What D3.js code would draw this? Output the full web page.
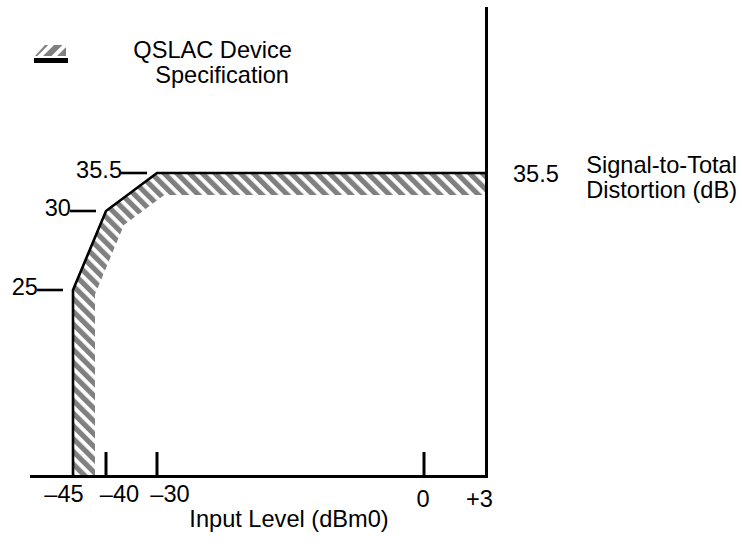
<!DOCTYPE html>
<html>
<head>
<meta charset="utf-8">
<script src="https://cdn.jsdelivr.net/npm/d3@7"></script>
<style>
	body { margin: 0; background: #fff; }
	svg text { font-family: "Liberation Sans", Arial, Helvetica, sans-serif; font-size: 23.6px; fill: #000; }
</style>
</head>
<body>
<svg id="chart" width="742" height="546"></svg>
<script>

// input level (dBm0) ticks on the x axis
var inputLevels = [-45, -40, -30, 0, 3];
var inputLabels = ['\u201345', '\u201340', '\u201330', '0', '+3'];

// signal-to-total distortion (dB) ticks
var distortionTicks = [25, 30, 35.5];
var distortionLabels = ['25', '30', '35.5'];

// QSLAC device specification mask
var maskInput = [-45, -40, -30, 3];
var maskDistortion = [25, 30, 35.5, 35.5];

var svg = d3.select('#chart');

/**
 * The drawing is not to scale, so both scales are piecewise
 */
var x = d3.scaleLinear().domain(inputLevels).range([73, 106, 157, 424, 486.5]);
var y = d3.scaleLinear().domain(distortionTicks).range([290, 211, 173]);
var axisY = 476.5;
var bandWidth = 22;

/**
 * Hatch patterns
 */
var defs = svg.append('defs');

defs.append('pattern')
		.attr('id', 'hatch')
		.attr('patternUnits', 'userSpaceOnUse')
		.attr('width', 9)
		.attr('height', 9)
		.attr('patternTransform', 'rotate(-45)')
	.append('rect')
		.attr('width', 5.2)
		.attr('height', 9)
		.attr('fill', '#808080');

defs.append('pattern')
		.attr('id', 'hatch-legend')
		.attr('patternUnits', 'userSpaceOnUse')
		.attr('width', 10)
		.attr('height', 10)
		.attr('patternTransform', 'rotate(45)')
	.append('rect')
		.attr('width', 6)
		.attr('height', 10)
		.attr('fill', '#808080');

/**
 * Intersection of two infinite lines
 */
var intersect = function(a, b) {
	var x1 = a[0][0], y1 = a[0][1], x2 = a[1][0], y2 = a[1][1];
	var x3 = b[0][0], y3 = b[0][1], x4 = b[1][0], y4 = b[1][1];
	var den = (x1 - x2) * (y3 - y4) - (y1 - y2) * (x3 - x4);
	var t = ((x1 - x3) * (y3 - y4) - (y1 - y3) * (x3 - x4)) / den;
	return [x1 + t * (x2 - x1), y1 + t * (y2 - y1)];
}

/**
 * Offsets a polyline to its right side by d pixels
 */
var offsetPolyline = function(pts, d) {
	var lines = [];
	for (var i = 0; i < pts.length - 1; i++) {
		var dx = pts[i + 1][0] - pts[i][0], dy = pts[i + 1][1] - pts[i][1];
		var len = Math.sqrt(dx * dx + dy * dy);
		var nx = -dy / len * d, ny = dx / len * d;
		lines.push([[pts[i][0] + nx, pts[i][1] + ny], [pts[i + 1][0] + nx, pts[i + 1][1] + ny]]);
	}
	var out = [lines[0][0]];
	for (var j = 0; j < lines.length - 1; j++) out.push(intersect(lines[j], lines[j + 1]));
	out.push(lines[lines.length - 1][1]);
	return out;
}

// mask points, starting at the x axis
var maskPts = [[x(maskInput[0]), axisY]];
for (var i = 0; i < maskInput.length; i++) maskPts.push([x(maskInput[i]), y(maskDistortion[i])]);

var innerPts = offsetPolyline(maskPts, bandWidth);

/**
 * Hatched band inside the mask
 */
svg.append('path')
		.attr('d', d3.line()(maskPts.concat(innerPts.slice().reverse())) + 'Z')
		.attr('fill', 'url(#hatch)');

/**
 * Mask line
 */
svg.append('path')
		.attr('d', d3.line()(maskPts))
		.attr('fill', 'none')
		.attr('stroke', '#000')
		.attr('stroke-width', 2.6)
		.attr('stroke-linejoin', 'miter');

/**
 * Axes
 */
svg.append('line')
		.attr('x1', 30).attr('x2', x(3) + 1.5)
		.attr('y1', axisY).attr('y2', axisY)
		.attr('stroke', '#000').attr('stroke-width', 3);

svg.append('line')
		.attr('x1', x(3)).attr('x2', x(3))
		.attr('y1', 7).attr('y2', axisY + 1.5)
		.attr('stroke', '#000').attr('stroke-width', 3);

// x ticks, -45 is the mask line and +3 the vertical axis
svg.selectAll('.xtick')
		.data(inputLevels.filter(function(d) { return d > -45 && d < 3; }))
	.enter().append('line')
		.attr('class', 'xtick')
		.attr('x1', function(d) { return x(d); })
		.attr('x2', function(d) { return x(d); })
		.attr('y1', 452).attr('y2', axisY)
		.attr('stroke', '#000').attr('stroke-width', 3);

// hand placed label nudges from the original drawing
var xLabelDx = [-9, 13.5, 13, -1, -7];
var xLabelDy = [0, 0, 0, 5, 5];

svg.selectAll('.xlabel')
		.data(inputLevels)
	.enter().append('text')
		.attr('class', 'xlabel')
		.attr('x', function(d, i) { return x(d) + xLabelDx[i]; })
		.attr('y', function(d, i) { return 502 + xLabelDy[i]; })
		.attr('text-anchor', 'middle')
		.text(function(d, i) { return inputLabels[i]; });

svg.append('text')
		.attr('x', 289).attr('y', 527)
		.attr('text-anchor', 'middle')
		.text('Input Level (dBm0)');

// y ticks next to the mask corners
svg.selectAll('.ytick')
		.data(distortionTicks)
	.enter().append('line')
		.attr('class', 'ytick')
		.attr('x1', function(d, i) { return x(maskInput[i]) - 36; })
		.attr('x2', function(d, i) { return x(maskInput[i]) - 10; })
		.attr('y1', function(d) { return y(d); })
		.attr('y2', function(d) { return y(d); })
		.attr('stroke', '#000').attr('stroke-width', 2.6);

svg.selectAll('.ylabel')
		.data(distortionTicks)
	.enter().append('text')
		.attr('class', 'ylabel')
		.attr('x', function(d, i) { return x(maskInput[i]) - 35; })
		.attr('y', function(d) { return y(d) + 4.5; })
		.attr('text-anchor', 'end')
		.text(function(d, i) { return distortionLabels[i]; });

// value on the right axis
svg.append('text')
		.attr('x', 513).attr('y', y(35.5) + 9)
		.text(distortionLabels[2]);

var yTitle = svg.append('text')
		.attr('text-anchor', 'end');
yTitle.append('tspan').attr('x', 737).attr('y', 173).text('Signal-to-Total');
yTitle.append('tspan').attr('x', 737).attr('y', 198).text('Distortion (dB)');

/**
 * Legend
 */
svg.append('path')
		.attr('d', 'M35,56L45,45L66,45L66,56Z')
		.attr('fill', 'url(#hatch-legend)');

svg.append('rect')
		.attr('x', 34).attr('y', 58)
		.attr('width', 34).attr('height', 5)
		.attr('fill', '#000');

var legendText = svg.append('text')
		.attr('text-anchor', 'end');
legendText.append('tspan').attr('x', 292).attr('y', 58).text('QSLAC Device');
legendText.append('tspan').attr('x', 289).attr('y', 83).text('Specification');

</script>
</body>
</html>
